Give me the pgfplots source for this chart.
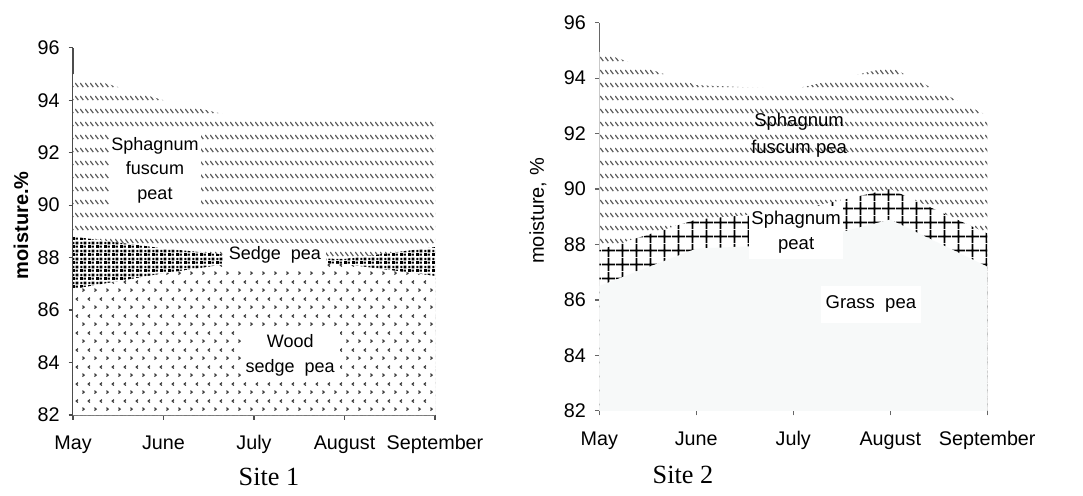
\documentclass[border=0pt]{standalone}
\usepackage{pgfplots}
\pgfplotsset{compat=1.18}
\usetikzlibrary{patterns}
\usepackage{fontspec}
\setmainfont{Liberation Sans}
\newfontfamily\timesfont{Liberation Serif}

% short diagonal dashes in rows
\pgfdeclarepatternformonly{sphag}{\pgfqpoint{0pt}{0pt}}{\pgfqpoint{2pt}{5.2pt}}{\pgfqpoint{2pt}{5.2pt}}{%
  \pgfsetlinewidth{0.55pt}%
  \pgfpathmoveto{\pgfqpoint{0.15pt}{3.8pt}}%
  \pgfpathlineto{\pgfqpoint{1.6pt}{2.1pt}}%
  \pgfusepath{stroke}}
% dense dark dots
\pgfdeclarepatternformonly{sedge}{\pgfqpoint{0pt}{0pt}}{\pgfqpoint{3.2pt}{3.2pt}}{\pgfqpoint{3.2pt}{3.2pt}}{%
  \pgfpathrectangle{\pgfqpoint{0pt}{0pt}}{\pgfqpoint{1.3pt}{1.3pt}}%
  \pgfpathrectangle{\pgfqpoint{1.6pt}{1.6pt}}{\pgfqpoint{1.3pt}{1.3pt}}%
  \pgfpathrectangle{\pgfqpoint{1.6pt}{0.2pt}}{\pgfqpoint{1.0pt}{0.9pt}}%
  \pgfpathrectangle{\pgfqpoint{0.2pt}{1.7pt}}{\pgfqpoint{0.9pt}{1.0pt}}%
  \pgfusepath{fill}}
% sparse chevrons
\pgfdeclarepatternformonly{wood}{\pgfqpoint{0pt}{0pt}}{\pgfqpoint{4.6pt}{6.6pt}}{\pgfqpoint{4.6pt}{6.6pt}}{%
  \pgfsetlinewidth{0.5pt}%
  \pgfpathmoveto{\pgfqpoint{0.6pt}{1.0pt}}\pgfpathlineto{\pgfqpoint{1.3pt}{1.6pt}}\pgfpathlineto{\pgfqpoint{0.6pt}{2.2pt}}%
  \pgfpathmoveto{\pgfqpoint{3.7pt}{4.3pt}}\pgfpathlineto{\pgfqpoint{3.0pt}{4.9pt}}\pgfpathlineto{\pgfqpoint{3.7pt}{5.5pt}}%
  \pgfusepath{stroke}}
% coarse grid
\pgfdeclarepatternformonly{cgrid}{\pgfqpoint{0pt}{0pt}}{\pgfqpoint{5.6pt}{5.6pt}}{\pgfqpoint{5.6pt}{5.6pt}}{%
  \pgfsetlinewidth{0.7pt}%
  \pgfpathmoveto{\pgfqpoint{0pt}{2.8pt}}\pgfpathlineto{\pgfqpoint{5.6pt}{2.8pt}}%
  \pgfpathmoveto{\pgfqpoint{2.8pt}{0pt}}\pgfpathlineto{\pgfqpoint{2.8pt}{5.6pt}}%
  \pgfusepath{stroke}}

\definecolor{grass}{RGB}{247,249,249}

\pgfplotsset{peat/.style={scale only axis, xmin=0, xmax=4, ymin=82, ymax=96,
  ytick={82,84,...,96}, xtick={0,...,4}, xticklabels={May,June,July,August,September},
  axis lines*=left, axis line style={-, black!70, line width=0.5pt},
  tick align=outside, major tick length=1.8pt, tick style={black!70, line width=0.5pt},
  tick label style={font=\fontsize{7.9}{9.5}\selectfont},
  xticklabel style={text height=1.6ex, text depth=0.45ex, yshift=0pt},
  /pgf/number format/assume math mode=true,
  ylabel style={anchor=center, font=\fontsize{8}{9.6}\selectfont}}}

\begin{document}
\begin{tikzpicture}
\useasboundingbox (-29.2pt,-32pt) rectangle (404pt,166pt);

\begin{axis}[peat, at={(0pt,0pt)}, anchor=south west, width=144.8pt, height=146.9pt,
  ylabel={\textbf{moisture.\%}}, ylabel style={at={(axis description cs:-0.144,0.517)}}]
\addplot[draw=none, fill=white, postaction={pattern=sphag, pattern color=black!65}]
  coordinates {(0,95.0) (1,94.0) (2,93.2) (3,93.35) (4,93.4)} \closedcycle;
\addplot[draw=none, fill=white, postaction={pattern=sedge, pattern color=black}]
  coordinates {(0,88.8) (1,88.35) (2,88.0) (3,87.95) (4,88.4)} \closedcycle;
\addplot[draw=none, fill=white, postaction={pattern=wood, pattern color=black!75}]
  coordinates {(0,86.8) (1,87.4) (2,87.9) (3,87.75) (4,87.3)} \closedcycle;
\node[fill=white, align=center, inner xsep=1pt, inner ysep=3pt, font=\fontsize{7.2}{9.7}\selectfont]
  at (axis cs:0.906,91.33) {Sphagnum\\fuscum\\peat};
\node[fill=white, inner xsep=2pt, inner ysep=1.5pt, font=\fontsize{7.2}{9.7}\selectfont]
  at (axis cs:2.23,88.09) {Sedge\ \ pea};
\node[fill=white, align=center, inner xsep=2pt, inner ysep=1.5pt, font=\fontsize{7.2}{9.7}\selectfont]
  at (axis cs:2.40,84.27) {Wood\\sedge\ \ pea};
\end{axis}

\begin{axis}[peat, at={(210.5pt,1.7pt)}, anchor=south west, width=155.2pt, height=155.2pt,
  axis line style={-, black!60}, tick style={black!60},
  ylabel={moisture, \%}, ylabel style={at={(axis description cs:-0.158,0.515)}}]
\addplot[draw=none, fill=white, postaction={pattern=sphag, pattern color=black!65}]
  coordinates {(0,94.95) (1,93.75) (2,93.6) (3,94.4) (4,92.65)} \closedcycle;
\addplot[draw=none, fill=white, postaction={pattern=cgrid, pattern color=black}]
  coordinates {(0,87.8) (1,88.9) (2,89.2) (3,90.0) (4,88.4)} \closedcycle;
\addplot[draw=none, fill=grass]
  coordinates {(0,86.5) (1,87.85) (2,88.0) (3,88.9) (4,87.2)} \closedcycle;
\addplot[gray!45, densely dotted, line width=0.4pt] coordinates {(4,82) (4,87.2)};
\node[align=center, font=\fontsize{7.4}{10.7}\selectfont]
  at (axis cs:2.06,91.95) {Sphagnum\\fuscum pea};
\node[fill=white, align=center, inner xsep=1pt, inner ysep=2pt, font=\fontsize{7.4}{10.2}\selectfont]
  at (axis cs:2.03,88.44) {Sphagnum\\peat};
\node[fill=white, inner xsep=2pt, inner ysep=4pt, font=\fontsize{7.4}{10}\selectfont]
  at (axis cs:2.80,85.84) {Grass\ \ pea};
\end{axis}

\node[font=\timesfont\fontsize{10.5}{12}\selectfont] at (78.4pt,-24.8pt) {Site 1};
\node[font=\timesfont\fontsize{10.5}{12}\selectfont] at (244pt,-24pt) {Site 2};
\end{tikzpicture}
\end{document}
